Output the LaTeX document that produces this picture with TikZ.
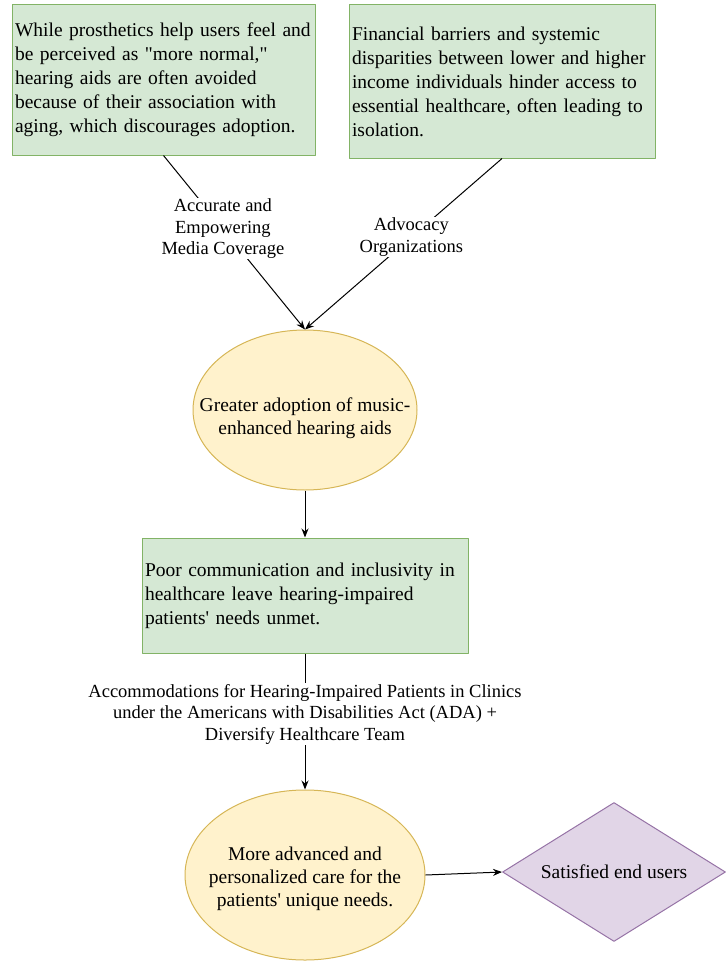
\documentclass[tikz,border=0pt]{standalone}
\usepackage{fontspec}
\setmainfont[Ligatures=TeXOff]{Liberation Serif}
\usetikzlibrary{shapes.geometric, arrows.meta}
\definecolor{boxgreen}{HTML}{D5E8D4}
\definecolor{boxgreenline}{HTML}{82B366}
\definecolor{ellyellow}{HTML}{FFF2CC}
\definecolor{ellyellowline}{HTML}{D6B656}
\definecolor{diapurple}{HTML}{E1D5E7}
\definecolor{diapurpleline}{HTML}{9673A6}
\begin{document}
\begin{tikzpicture}[>={Stealth[length=9pt, width=7pt]}, x=1pt, y=-1pt, line join=round, line width=1pt,
		greenbox/.style={draw=boxgreenline, fill=boxgreen, rectangle, inner sep=3pt, align=left, font=\fontsize{19.5}{24}\selectfont},
		yellowell/.style={draw=ellyellowline, fill=ellyellow, ellipse, inner sep=0pt},
		shapetext/.style={align=center, font=\fontsize{19.5}{23}\selectfont},
		edgelbl/.style={fill=white, inner sep=1pt, align=center, font=\fontsize{18.5}{21.5}\selectfont}]
			\useasboundingbox (0,0) rectangle (725,963);
			\node[greenbox, text width=297pt, minimum height=150pt] (prost) at (163.5,80) {While prosthetics help users feel and\\be perceived as "more normal,"\\hearing aids are often avoided\\because of their association with\\aging, which discourages adoption.};
			\node[greenbox, text width=300pt, minimum height=153pt] (finance) at (502,81.5) {Financial barriers and systemic\\disparities between lower and higher\\income individuals hinder access to\\essential healthcare, often leading to\\isolation.};
			\node[yellowell, minimum width=224pt, minimum height=160pt] (adopt) at (305,410) {};
			\node[shapetext] (adopttext) at (305,418) {Greater adoption of music-\\enhanced hearing aids};
			\node[greenbox, text width=320pt, minimum height=115pt] (comm) at (305,595.5) {Poor communication and inclusivity in\\healthcare leave hearing-impaired\\patients' needs unmet.};
			\node[yellowell, minimum width=240pt, minimum height=170pt] (care) at (305,875) {};
			\node[shapetext] (caretext) at (305,879) {More advanced and\\personalized care for the\\patients' unique needs.};
			\node[draw=diapurpleline, fill=diapurple, diamond, inner sep=0pt, minimum width=223pt, minimum height=139pt] (users) at (614,872) {};
			\node[shapetext] (userstext) at (users.center) {Satisfied end users};
			\draw[->] (prost.south) -- node[edgelbl, pos=0.42] {Accurate and\\Empowering\\Media Coverage} (adopt.north);
			\draw[->] (finance.south) -- node[edgelbl, pos=0.46] {Advocacy\\Organizations} (adopt.north);
			\draw[->] (adopt) -- (comm);
			\draw[->] (comm) -- node[edgelbl, pos=0.445] {Accommodations for Hearing-Impaired Patients in Clinics\\under the Americans with Disabilities Act (ADA) +\\Diversify Healthcare Team} (care);
			\draw[->] (care.east) -- (users.west);
		\end{tikzpicture}
\end{document}
